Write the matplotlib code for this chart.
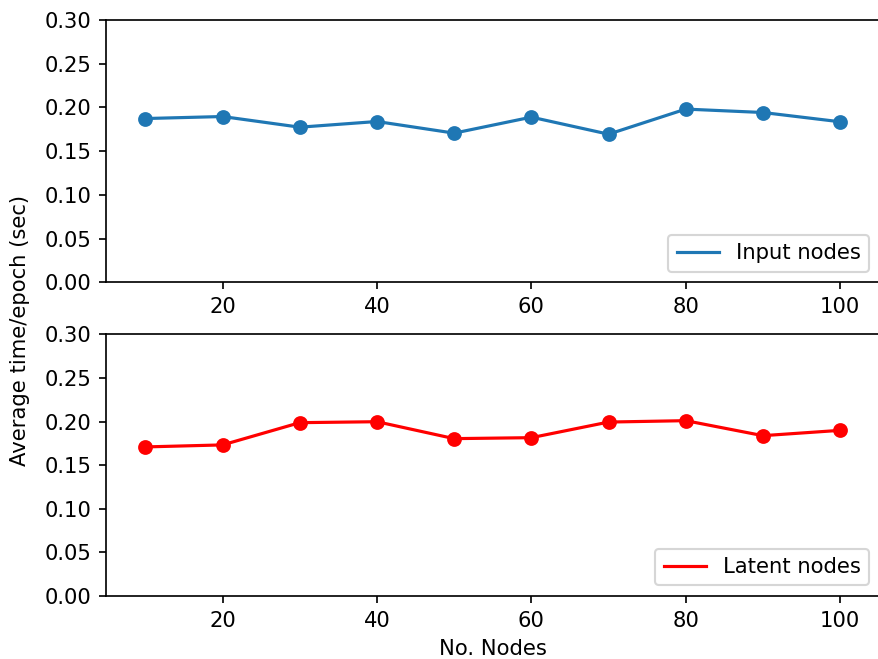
import matplotlib
matplotlib.use("Agg")
import matplotlib.pyplot as plt

nodes = [10, 20, 30, 40, 50, 60, 70, 80, 90, 100]
input_time = [0.1873, 0.1896, 0.1774, 0.1839, 0.1706, 0.1889, 0.1694, 0.1981, 0.1942, 0.1836]
latent_time = [0.1709, 0.1732, 0.1987, 0.1998, 0.1804, 0.1815, 0.1994, 0.2010, 0.1838, 0.1899]
yticks = [0.00, 0.05, 0.10, 0.15, 0.20, 0.25, 0.30]
xticks = [20, 40, 60, 80, 100]

DPI = 152
W, H = 878, 659
fig = plt.figure(figsize=(W / DPI, H / DPI), dpi=DPI)

left = 106 / W
width = (879.5 - 106) / W
ax1 = fig.add_axes([left, 1 - 282.3 / H, width, (282.3 - 20) / H])
ax2 = fig.add_axes([left, 1 - 596 / H, width, (596 - 334.3) / H])

ax1.plot(nodes, input_time, linewidth=1.5, color='#1f77b4', label='Input nodes')
ax1.plot(nodes, input_time, 'o', color='#1f77b4')
ax2.plot(nodes, latent_time, linewidth=1.5, color='red', label='Latent nodes')
ax2.plot(nodes, latent_time, 'o', color='red')

for ax in (ax1, ax2):
    ax.set_xlim(4.9, 105.1)
    ax.set_ylim(0, 0.30)
    ax.set_yticks(yticks)
    ax.set_xticks(xticks)
    ax.set_yticklabels([f"{t:.2f}" for t in yticks])
    ax.legend(loc='lower right')

ax2.set_xlabel('No. Nodes')
fig.text(20 / W, 1 - 330 / H, 'Average time/epoch (sec)', rotation=90,
         ha='center', va='center', fontsize=10)

fig.savefig('out.png', dpi=DPI)
